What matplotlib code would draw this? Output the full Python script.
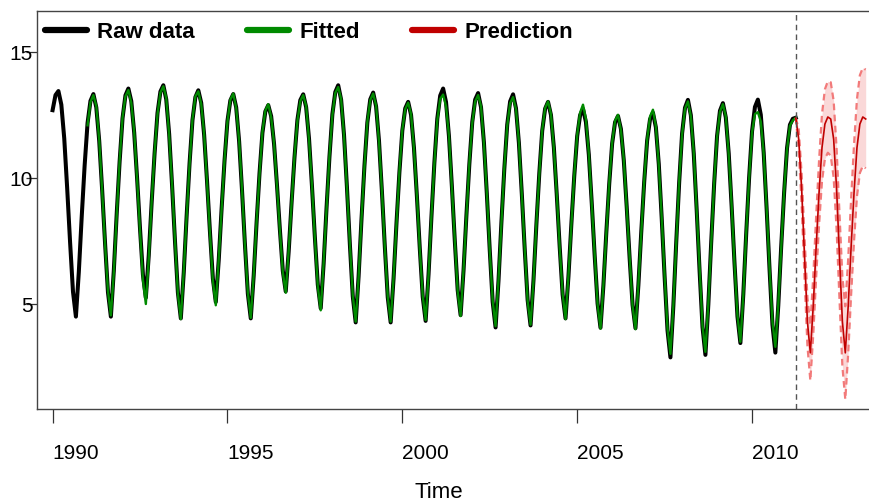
import matplotlib.pyplot as plt
import numpy as np
from matplotlib.lines import Line2D

plt.rcParams['font.family'] = ['Liberation Sans', 'DejaVu Sans']

# monthly series, starts Jan 1990
start_year = 1990
raw_data = [
    12.70, 13.30, 13.46, 12.92, 11.58, 9.61, 7.46, 5.49, 4.50, 6.27, 8.48, 10.51,   # 1990
    12.19, 13.07, 13.34, 12.81, 11.48, 9.54, 7.42, 5.47, 4.50, 6.31, 8.58, 10.66,   # 1991
    12.38, 13.29, 13.56, 13.06, 11.81, 9.99, 7.99, 6.16, 5.25, 6.94, 9.05, 10.99,   # 1992
    12.59, 13.44, 13.69, 13.13, 11.75, 9.71, 7.49, 5.45, 4.43, 6.24, 8.51, 10.59,   # 1993
    12.31, 13.22, 13.49, 12.99, 11.72, 9.87, 7.86, 6.01, 5.08, 6.73, 8.80, 10.70,   # 1994
    12.27, 13.09, 13.34, 12.81, 11.47, 9.51, 7.37, 5.41, 4.43, 6.12, 8.24, 10.19,   # 1995
    11.80, 12.65, 12.90, 12.46, 11.35, 9.72, 7.94, 6.31, 5.50, 7.07, 9.02, 10.82,   # 1996
    12.31, 13.10, 13.33, 12.82, 11.55, 9.68, 7.64, 5.77, 4.83, 6.60, 8.82, 10.85,   # 1997
    12.54, 13.42, 13.69, 13.12, 11.71, 9.64, 7.38, 5.31, 4.27, 6.10, 8.38, 10.48,   # 1998
    12.21, 13.13, 13.40, 12.85, 11.48, 9.47, 7.28, 5.27, 4.27, 6.02, 8.21, 10.23,   # 1999
    11.89, 12.77, 13.03, 12.51, 11.20, 9.29, 7.20, 5.29, 4.33, 6.18, 8.48, 10.61,   # 2000
    12.36, 13.28, 13.56, 13.02, 11.67, 9.69, 7.53, 5.55, 4.56, 6.32, 8.53, 10.56,   # 2001
    12.23, 13.12, 13.38, 12.82, 11.42, 9.38, 7.14, 5.09, 4.07, 5.92, 8.24, 10.37,   # 2002
    12.13, 13.05, 13.33, 12.78, 11.40, 9.38, 7.18, 5.16, 4.15, 5.93, 8.15, 10.19,   # 2003
    11.88, 12.76, 13.03, 12.51, 11.22, 9.33, 7.27, 5.38, 4.43, 6.09, 8.17, 10.09,   # 2004
    11.67, 12.50, 12.75, 12.23, 10.93, 9.01, 6.93, 5.02, 4.06, 5.74, 7.84, 9.78,    # 2005
    11.38, 12.22, 12.47, 11.96, 10.70, 8.85, 6.82, 4.97, 4.04, 5.75, 7.89, 9.86,    # 2006
    11.49, 12.34, 12.60, 12.02, 10.56, 8.42, 6.09, 3.95, 2.88, 4.93, 7.48, 9.84,    # 2007
    11.78, 12.80, 13.11, 12.50, 10.98, 8.75, 6.32, 4.09, 2.98, 4.98, 7.48, 9.78,    # 2008
    11.68, 12.68, 12.98, 12.41, 10.98, 8.88, 6.59, 4.50, 3.45, 5.38, 7.80, 10.03,   # 2009
    11.86, 12.83, 13.12, 12.52, 11.01, 8.80, 6.39, 4.18, 3.07, 4.94, 7.27, 9.41,    # 2010
    11.19, 12.12, 12.36, 12.40,                                                     # 2011
]

# fitted values start Jan 1991
fit_start_year = 1991
fitted_data = [
    12.10, 13.02, 13.30, 12.86, 11.52, 9.50, 7.38, 5.52, 4.55, 6.25, 8.52, 10.70,   # 1991
    12.42, 13.25, 13.50, 13.00, 11.85, 9.95, 7.90, 5.95, 5.00, 6.80, 9.10, 11.02,   # 1992
    12.55, 13.40, 13.65, 13.18, 11.70, 9.75, 7.52, 5.40, 4.40, 6.30, 8.48, 10.55,   # 1993
    12.35, 13.25, 13.45, 12.95, 11.76, 9.82, 7.80, 5.90, 4.95, 6.78, 8.75, 10.74,   # 1994
    12.24, 13.12, 13.36, 12.78, 11.50, 9.55, 7.33, 5.45, 4.45, 6.15, 8.28, 10.15,   # 1995
    11.85, 12.68, 12.94, 12.42, 11.38, 9.68, 7.90, 6.25, 5.45, 7.12, 8.98, 10.85,   # 1996
    12.27, 13.06, 13.30, 12.86, 11.50, 9.72, 7.60, 5.70, 4.75, 6.65, 8.78, 10.88,   # 1997
    12.50, 13.38, 13.62, 13.15, 11.68, 9.60, 7.42, 5.35, 4.30, 6.05, 8.42, 10.44,   # 1998
    12.25, 13.10, 13.36, 12.88, 11.44, 9.50, 7.25, 5.30, 4.30, 6.06, 8.18, 10.27,   # 1999
    11.93, 12.74, 13.00, 12.55, 11.16, 9.32, 7.16, 5.33, 4.36, 6.14, 8.52, 10.57,   # 2000
    12.30, 13.15, 13.32, 12.85, 11.70, 9.65, 7.57, 5.50, 4.52, 6.36, 8.49, 10.60,   # 2001
    12.19, 13.05, 13.30, 12.86, 11.38, 9.42, 7.10, 5.14, 4.12, 5.96, 8.20, 10.41,   # 2002
    12.09, 12.98, 13.22, 12.74, 11.44, 9.34, 7.22, 5.12, 4.18, 5.89, 8.19, 10.15,   # 2003
    11.92, 12.78, 13.05, 12.55, 11.18, 9.37, 7.23, 5.42, 4.40, 6.13, 8.13, 10.13,   # 2004
    11.72, 12.60, 12.92, 12.35, 10.97, 8.97, 6.97, 4.98, 4.02, 5.78, 7.80, 9.82,    # 2005
    11.42, 12.28, 12.52, 11.92, 10.74, 8.81, 6.86, 4.93, 4.00, 5.79, 7.85, 9.90,    # 2006
    11.53, 12.45, 12.72, 12.06, 10.52, 8.46, 6.13, 4.02, 3.02, 4.97, 7.44, 9.88,    # 2007
    11.74, 12.76, 13.05, 12.46, 11.02, 8.71, 6.36, 4.15, 3.10, 5.02, 7.44, 9.82,    # 2008
    11.64, 12.64, 12.94, 12.45, 10.94, 8.92, 6.55, 4.54, 3.50, 5.34, 7.84, 9.99,    # 2009
    11.82, 12.55, 12.62, 12.25, 10.97, 8.84, 6.43, 4.30, 3.30, 4.98, 7.23, 9.45,    # 2010
    11.15, 12.08, 12.30, 12.40,                                                     # 2011
]

# prediction Apr 2011 (last obs) .. Apr 2013
pred_mean = [12.40, 11.55, 9.60, 6.90, 4.30, 3.06, 4.93, 7.28, 9.43, 11.21, 12.15, 12.43,
             12.35, 11.55, 9.60, 6.90, 4.30, 3.06, 4.93, 7.28, 9.43, 11.21, 12.15, 12.43, 12.35]
pred_upper = [12.40, 11.95, 10.20, 7.70, 5.25, 4.16, 6.08, 8.48, 10.71, 12.54, 13.53, 13.85,
              13.81, 13.07, 11.20, 8.60, 6.08, 4.91, 6.81, 9.18, 11.35, 13.14, 14.09, 14.38, 14.31]
pred_lower = [12.40, 11.15, 9.00, 6.10, 3.35, 1.96, 3.78, 6.08, 8.15, 9.88, 10.77, 11.01,
              10.89, 10.03, 8.00, 5.20, 2.52, 1.21, 3.05, 5.38, 7.51, 9.28, 10.21, 10.48, 10.39]

x_ticks = [1990, 1995, 2000, 2005, 2010]
y_ticks = [5, 10, 15]
labels = ['Raw data', 'Fitted', 'Prediction']
colors = ['black', '#008a00', '#c00000']

t_raw = start_year + np.arange(len(raw_data)) / 12
t_fit = fit_start_year + np.arange(len(fitted_data)) / 12
t_pred = t_raw[-1] + np.arange(len(pred_mean)) / 12

fig = plt.figure(figsize=(8.7, 5.04), dpi=100)
ax = fig.add_axes([36.5/870, 95/504, 835.5/870, 398/504])

ax.plot(t_raw, raw_data, color=colors[0], lw=2.9)
ax.plot(t_fit, fitted_data, color=colors[1], lw=1.7)
ax.fill_between(t_pred, pred_lower, pred_upper, color='#f8c8c8', alpha=0.7, lw=0)
ax.plot(t_pred, pred_upper, color='#f27a7a', lw=1.6, ls=(0, (3, 2)))
ax.plot(t_pred, pred_lower, color='#f27a7a', lw=1.6, ls=(0, (3, 2)))
ax.plot(t_pred, pred_mean, color=colors[2], lw=1.2)
ax.axvline(t_raw[-1], color='#555555', lw=1, ls=(0, (4, 3)))

ax.set_xlim(1989.54, 2013.43)
ax.set_ylim(0.83, 16.64)

for s in ax.spines.values():
    s.set_color('#444444')
    s.set_linewidth(1)

ax.set_xticks(x_ticks)
ax.set_xticklabels([str(v) for v in x_ticks], fontsize=15)
for lab in ax.get_xticklabels():
    lab.set_ha('left')
ax.tick_params(axis='x', direction='out', length=10, width=0.9, pad=15, color='#333333')
ax.set_yticks(y_ticks)
ax.set_yticklabels([str(v) for v in y_ticks], fontsize=15)
ax.tick_params(axis='y', direction='out', length=8, width=0.9, pad=-5.4, color='#333333')

ax.set_xlabel('Time', fontsize=16)
ax.xaxis.set_label_coords((439 - 36.5) / 835.5, -(493 - 409) / 398)
ax.xaxis.label.set_va('center')

handles = [Line2D([], [], color=c, lw=4.5, solid_capstyle='round') for c in colors]
ax.legend(handles, labels, loc='upper left', bbox_to_anchor=(0.0102, 0.972), ncol=3,
          frameon=False, prop={'weight': 'bold', 'size': 16}, handlelength=1.9,
          handletextpad=0.45, columnspacing=2.35, borderaxespad=0, borderpad=0)

plt.savefig('out.png', dpi=100)
